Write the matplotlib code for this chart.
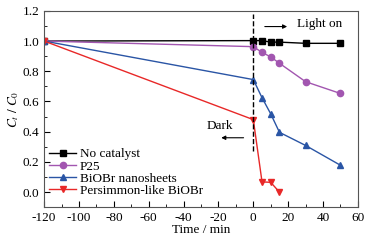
import matplotlib
matplotlib.use("Agg")
import matplotlib.pyplot as plt
from matplotlib.ticker import MultipleLocator

plt.rcParams["font.family"] = ["Liberation Serif", "DejaVu Serif"]
plt.rcParams["mathtext.fontset"] = "stix"
plt.rcParams["font.size"] = 9.5
plt.rcParams["axes.unicode_minus"] = False

time_dark_light = [-120, 0, 5, 10, 15, 30, 50]
time_persimmon = [-120, 0, 5, 10, 15]

no_catalyst = [1.0, 1.003, 1.003, 0.993, 0.993, 0.985, 0.985]
p25 = [1.0, 0.963, 0.925, 0.895, 0.853, 0.731, 0.653]
biobr_sheets = [1.0, 0.745, 0.625, 0.518, 0.396, 0.309, 0.178]
persimmon = [1.0, 0.48, 0.068, 0.065, 0.0]

labels = ["No catalyst", "P25", "BiOBr nanosheets", "Persimmon-like BiOBr"]
colors = ["black", "#a256b0", "#2a55a5", "#e82828"]
markers = ["s", "o", "^", "v"]

fig, ax = plt.subplots(figsize=(3.84, 2.41), dpi=100)
fig.subplots_adjust(left=0.115, right=0.932, top=0.955, bottom=0.14)

series = [no_catalyst, p25, biobr_sheets, persimmon]
times = [time_dark_light, time_dark_light, time_dark_light, time_persimmon]
for t, y, lab, c, m in zip(times, series, labels, colors, markers):
    ax.plot(t, y, color=c, marker=m, markersize=4.5, linewidth=1.0, label=lab)

# dark / light boundary
ax.plot([0, 0], [0.27, 1.18], color="black", linestyle="--", linewidth=1.0)
ax.annotate("", xy=(21, 1.096), xytext=(5, 1.096),
            arrowprops=dict(arrowstyle="-|>", color="black", lw=0.8, mutation_scale=6))
ax.text(25, 1.11, "Light on", va="center")
ax.annotate("", xy=(-20, 0.36), xytext=(-4, 0.36),
            arrowprops=dict(arrowstyle="-|>", color="black", lw=0.8, mutation_scale=6))
ax.text(-27, 0.44, "Dark", va="center")

ax.set_xlim(-120, 60)
ax.set_ylim(-0.1, 1.2)
ax.xaxis.set_major_locator(MultipleLocator(20))
ax.xaxis.set_minor_locator(MultipleLocator(10))
ax.yaxis.set_major_locator(MultipleLocator(0.2))
ax.yaxis.set_minor_locator(MultipleLocator(0.1))
ax.tick_params(which="both", direction="in")
ax.tick_params(which="major", length=4)
ax.tick_params(which="minor", length=2.5)
for s in ax.spines.values():
    s.set_color("#555555")

ax.set_xlabel("Time / min", labelpad=0)
ax.set_ylabel(r"$C_t\ /\ C_0$", labelpad=1)

ax.legend(loc="lower left", frameon=False, handlelength=2.0, handletextpad=0.3,
          labelspacing=0.0, borderaxespad=0.0, bbox_to_anchor=(0.0, 0.025))

fig.savefig("out.png", dpi=100)
